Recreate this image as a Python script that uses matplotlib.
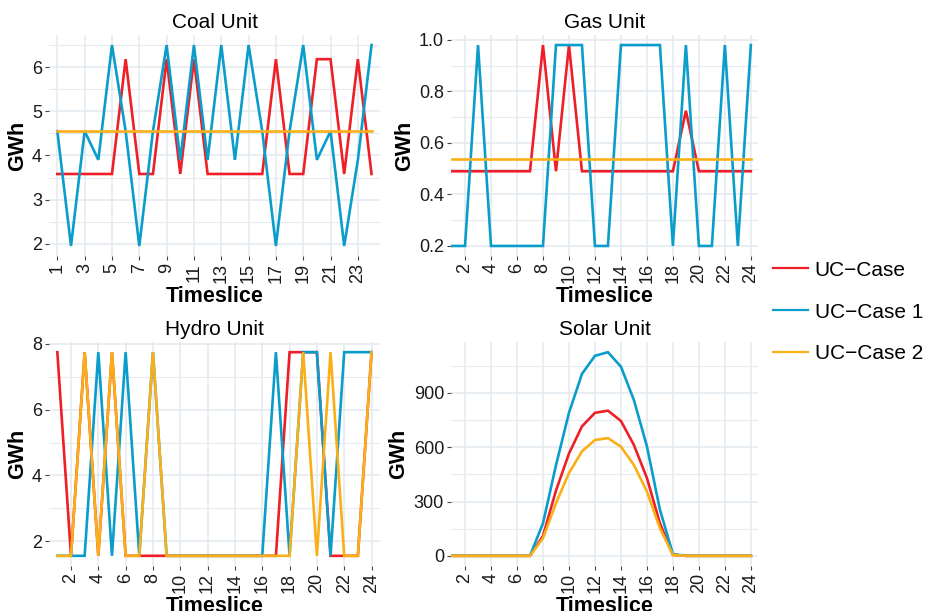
import matplotlib
matplotlib.use('Agg')
import matplotlib.pyplot as plt
from matplotlib.lines import Line2D
from matplotlib.ticker import FixedLocator, FormatStrFormatter

plt.rcParams['font.family'] = ['Liberation Sans', 'DejaVu Sans']

## Data
timeslice = list(range(1, 25))
series_names = ['UC\u2212Case', 'UC\u2212Case 1', 'UC\u2212Case 2']

coal_uc = [3.58, 3.58, 3.58, 3.58, 3.58, 6.18, 3.58, 3.58, 6.18, 3.58, 6.18, 3.58,
           3.58, 3.58, 3.58, 3.58, 6.18, 3.58, 3.58, 6.18, 6.18, 3.58, 6.18, 3.58]
coal_uc1 = [4.55, 1.95, 4.55, 3.90, 6.50, 4.55, 1.95, 4.55, 6.50, 3.90, 6.50, 3.90,
            6.50, 3.90, 6.50, 4.55, 1.95, 4.55, 6.50, 3.90, 4.55, 1.95, 3.90, 6.50]
coal_uc2 = [4.55, 4.55, 4.55, 4.55, 4.55, 4.55, 4.55, 4.55, 4.55, 4.55, 4.55, 4.55,
            4.55, 4.55, 4.55, 4.55, 4.55, 4.55, 4.55, 4.55, 4.55, 4.55, 4.55, 4.55]

gas_uc = [0.49, 0.49, 0.49, 0.49, 0.49, 0.49, 0.49, 0.98, 0.49, 0.98, 0.49, 0.49,
          0.49, 0.49, 0.49, 0.49, 0.49, 0.49, 0.725, 0.49, 0.49, 0.49, 0.49, 0.49]
gas_uc1 = [0.20, 0.20, 0.98, 0.20, 0.20, 0.20, 0.20, 0.20, 0.98, 0.98, 0.98, 0.20,
           0.20, 0.98, 0.98, 0.98, 0.98, 0.20, 0.98, 0.20, 0.20, 0.98, 0.20, 0.98]
gas_uc2 = [0.538, 0.538, 0.538, 0.538, 0.538, 0.538, 0.538, 0.538, 0.538, 0.538, 0.538, 0.538,
           0.538, 0.538, 0.538, 0.538, 0.538, 0.538, 0.538, 0.538, 0.538, 0.538, 0.538, 0.538]

hydro_uc = [7.75, 1.55, 7.75, 1.55, 7.75, 1.55, 1.55, 1.55, 1.55, 1.55, 1.55, 1.55,
            1.55, 1.55, 1.55, 1.55, 1.55, 7.75, 7.75, 7.75, 1.55, 1.55, 1.55, 7.75]
hydro_uc1 = [1.55, 1.55, 1.55, 7.75, 1.55, 7.75, 1.55, 7.75, 1.55, 1.55, 1.55, 1.55,
             1.55, 1.55, 1.55, 1.55, 7.75, 1.55, 7.75, 7.75, 1.55, 7.75, 7.75, 7.75]
hydro_uc2 = [1.55, 1.55, 7.75, 1.55, 7.75, 1.55, 1.55, 7.75, 1.55, 1.55, 1.55, 1.55,
             1.55, 1.55, 1.55, 1.55, 1.55, 1.55, 7.75, 1.55, 7.75, 1.55, 1.55, 7.75]

solar_uc = [0, 0, 0, 0, 0, 0, 0, 110, 360, 565, 715, 790,
            802, 745, 612, 430, 180, 5, 0, 0, 0, 0, 0, 0]
solar_uc1 = [0, 0, 0, 0, 0, 0, 0, 180, 500, 790, 1005, 1105,
             1125, 1045, 860, 605, 255, 10, 0, 0, 0, 0, 0, 0]
solar_uc2 = [0, 0, 0, 0, 0, 0, 0, 98, 290, 457, 577, 640,
             650, 603, 502, 355, 153, 5, 0, 0, 0, 0, 0, 0]

colors = ['#EE1F26', '#0A9DCB', '#FBAF17']

## Panel settings
odd_ticks = [1, 3, 5, 7, 9, 11, 13, 15, 17, 19, 21, 23]
even_ticks = [2, 4, 6, 8, 10, 12, 14, 16, 18, 20, 22, 24]
left_lim = (0.39, 24.62)
right_lim = (0.92, 24.55)

panels = [
    dict(title='Coal Unit', data=[coal_uc, coal_uc1, coal_uc2], xt=odd_ticks,
         yt=[2, 3, 4, 5, 6], ym=[1.5, 2.5, 3.5, 4.5, 5.5, 6.5], fmt='%d',
         rect=[49, 35, 380, 256], xlim=left_lim),
    dict(title='Gas Unit', data=[gas_uc, gas_uc1, gas_uc2], xt=even_ticks,
         yt=[0.2, 0.4, 0.6, 0.8, 1.0], ym=[0.3, 0.5, 0.7, 0.9], fmt='%.1f',
         rect=[451, 35, 758, 256], xlim=right_lim),
    dict(title='Hydro Unit', data=[hydro_uc, hydro_uc1, hydro_uc2], xt=even_ticks,
         yt=[2, 4, 6, 8], ym=[3, 5, 7], fmt='%d',
         rect=[49, 342, 380, 566], xlim=left_lim),
    dict(title='Solar Unit', data=[solar_uc, solar_uc1, solar_uc2], xt=even_ticks,
         yt=[0, 300, 600, 900], ym=[150, 450, 750, 1050], fmt='%d',
         rect=[451, 342, 758, 566], xlim=right_lim),
]

W, H = 927, 611
fig = plt.figure(figsize=(W / 100, H / 100), dpi=100)
grid_col = '#E3EAF0'

for p in panels:
    x0, y0, x1, y1 = p['rect']
    ax = fig.add_axes([x0 / W, 1 - y1 / H, (x1 - x0) / W, (y1 - y0) / H])
    for vals, c in zip(p['data'], colors):
        ax.plot(timeslice, vals, color=c, lw=1.9, solid_joinstyle='miter')
    ax.set_xlim(*p['xlim'])
    ax.margins(y=0.05)
    ax.xaxis.set_major_locator(FixedLocator(p['xt']))
    ax.yaxis.set_major_locator(FixedLocator(p['yt']))
    ax.yaxis.set_minor_locator(FixedLocator(p['ym']))
    ax.yaxis.set_major_formatter(FormatStrFormatter(p['fmt']))
    ax.grid(True, which='major', color=grid_col, lw=1.1)
    ax.grid(True, which='minor', axis='y', color=grid_col, lw=0.8)
    ax.set_axisbelow(True)
    for s in ax.spines.values():
        s.set_visible(False)
    ax.tick_params(which='major', length=3, width=0.8, color='#444444',
                   labelsize=13, labelcolor='#1A1A1A', pad=2)
    ax.tick_params(which='minor', length=0)
    plt.setp(ax.get_xticklabels(), rotation=90, va='top', ha='center')
    ax.set_title(p['title'], fontsize=15, pad=5)
    ax.set_xlabel('Timeslice', fontsize=15.5, fontweight='bold', labelpad=2)
    ax.set_ylabel('GWh', fontsize=15.5, fontweight='bold', labelpad=3)

handles = [Line2D([], [], color=c, lw=1.6) for c in colors]
fig.legend(handles, series_names, loc='center left', bbox_to_anchor=(773 / W, 1 - 312 / H),
           frameon=False, fontsize=15, handlelength=1.7, handletextpad=0.3,
           labelspacing=1.1, borderaxespad=0, borderpad=0)

fig.savefig('out.png', dpi=100)
